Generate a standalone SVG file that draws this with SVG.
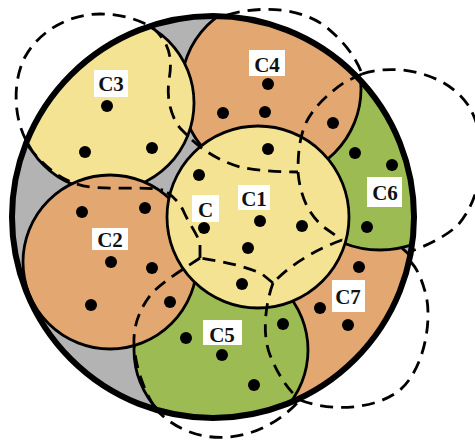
<svg xmlns="http://www.w3.org/2000/svg" width="475" height="442" viewBox="0 0 475 442">
  <style>
    .reg { stroke: #000; stroke-width: 2.8; }
    .yel { fill: #f4e393; }
    .ora { fill: #e3a771; }
    .grn { fill: #9cbc53; }
    .dash { fill: none; stroke: #000; stroke-width: 2.8; stroke-dasharray: 13 8; }
    .dot { fill: #000; }
    .lbox { fill: #fff; }
    .lbl { font-family: "Liberation Serif", "Times New Roman", serif; font-weight: bold; font-size: 21px; fill: #111; text-anchor: middle; }
  </style>
  <defs>
    <clipPath id="outerClip"><circle cx="213" cy="217" r="201"/></clipPath>
  </defs>
  <rect width="475" height="442" fill="#fff"/>

  <g id="outer-disc">
    <circle cx="213" cy="217" r="201" fill="#b3b3b3"/>
  </g>

  <g id="regions" clip-path="url(#outerClip)">
    <g id="region-C7"><circle class="reg ora" cx="340" cy="320" r="95"/></g>
    <g id="region-C6"><circle class="reg grn" cx="380" cy="150" r="100"/></g>
    <g id="region-C4"><circle class="reg ora" cx="271" cy="89" r="90"/></g>
    <g id="region-C3"><circle class="reg yel" cx="106" cy="103" r="88"/></g>
    <g id="region-C5"><circle class="reg grn" cx="221" cy="350" r="87"/></g>
    <g id="region-C2"><circle class="reg ora" cx="110" cy="262" r="87"/></g>
    <g id="region-C1"><circle class="reg yel" cx="258" cy="217" r="91"/></g>
  </g>

  <g id="outer-ring">
    <circle cx="213" cy="217" r="201" fill="none" stroke="#000" stroke-width="6"/>
  </g>

  <g id="dashed-boundaries">
    <path class="dash" d="M26,140 C14,118 12,82 25,57 C40,30 70,14 100,14 C122,14 140,20 153,28"/>
    <path class="dash" d="M153,28 C172,45 172,62 169,80 C166,100 172,118 180,128 L192,140"/>
    <path class="dash" d="M227,15 C262,5 300,8 325,26 C342,40 355,55 362,74"/>
    <path class="dash" d="M362,74 L345,82 C330,92 312,108 305,125 C299,140 298,155 298,172"/>
    <path class="dash" d="M192,140 C205,152 222,162 240,167 C258,171 280,172 298,172"/>
    <path class="dash" d="M298,172 C300,195 308,215 325,228 L342,240"/>
    <path class="dash" d="M362,74 C400,62 448,75 468,105 C490,140 484,195 458,225 C444,238 425,246 412,251"/>
    <path class="dash" d="M342,240 C320,248 293,262 273,283"/>
    <path class="dash" d="M273,283 L262,274 C245,266 225,262 200,258"/>
    <path class="dash" d="M200,258 L200,243 C196,232 188,222 183,210 C178,200 170,194 163,190"/>
    <path class="dash" d="M28,146 C45,168 65,184 90,187 C115,190 140,186 163,190"/>
    <path class="dash" d="M200,258 C185,268 165,280 152,293 C140,308 133,325 134,345 C136,370 145,392 155,408"/>
    <path class="dash" d="M155,408 C172,428 200,440 230,437 C258,434 282,420 300,400"/>
    <path class="dash" d="M273,283 C265,305 262,335 270,355 C278,375 288,390 300,400"/>
    <path class="dash" d="M300,400 C330,412 375,410 400,390 C425,368 432,320 426,295 C422,280 418,270 411,262"/>
  </g>

  <g id="points">
    <circle class="dot" cx="107" cy="106" r="6"/>
    <circle class="dot" cx="85" cy="152" r="6"/>
    <circle class="dot" cx="152" cy="148" r="6"/>
    <circle class="dot" cx="268" cy="84" r="6"/>
    <circle class="dot" cx="223" cy="113" r="6"/>
    <circle class="dot" cx="265" cy="112" r="6"/>
    <circle class="dot" cx="333" cy="123" r="6"/>
    <circle class="dot" cx="355" cy="153" r="6"/>
    <circle class="dot" cx="392" cy="165" r="6"/>
    <circle class="dot" cx="367" cy="227" r="6"/>
    <circle class="dot" cx="268" cy="149" r="6"/>
    <circle class="dot" cx="199" cy="175" r="6"/>
    <circle class="dot" cx="204" cy="228" r="6"/>
    <circle class="dot" cx="260" cy="221" r="6"/>
    <circle class="dot" cx="302" cy="226" r="6"/>
    <circle class="dot" cx="248" cy="248" r="6"/>
    <circle class="dot" cx="242" cy="284" r="6"/>
    <circle class="dot" cx="82" cy="212" r="6"/>
    <circle class="dot" cx="145" cy="208" r="6"/>
    <circle class="dot" cx="111" cy="262" r="6"/>
    <circle class="dot" cx="152" cy="268" r="6"/>
    <circle class="dot" cx="91" cy="305" r="6"/>
    <circle class="dot" cx="170" cy="302" r="6"/>
    <circle class="dot" cx="186" cy="338" r="6"/>
    <circle class="dot" cx="222" cy="355" r="6"/>
    <circle class="dot" cx="254" cy="385" r="6"/>
    <circle class="dot" cx="283" cy="324" r="6"/>
    <circle class="dot" cx="359" cy="267" r="6"/>
    <circle class="dot" cx="320" cy="308" r="6"/>
    <circle class="dot" cx="348" cy="325" r="6"/>
  </g>

  <g id="label-C3"><rect class="lbox" x="94" y="70" width="34" height="27"/><text class="lbl" x="111" y="91">C3</text></g>
  <g id="label-C4"><rect class="lbox" x="249" y="50" width="36" height="26"/><text class="lbl" x="267" y="72">C4</text></g>
  <g id="label-C1"><rect class="lbox" x="238" y="185" width="32" height="25"/><text class="lbl" x="254" y="206">C1</text></g>
  <g id="label-C"><rect class="lbox" x="192" y="195" width="27" height="27"/><text class="lbl" x="205.5" y="217">C</text></g>
  <g id="label-C6"><rect class="lbox" x="367" y="177" width="35" height="30"/><text class="lbl" x="385" y="200">C6</text></g>
  <g id="label-C2"><rect class="lbox" x="92" y="228" width="36" height="22"/><text class="lbl" x="110" y="247">C2</text></g>
  <g id="label-C5"><rect class="lbox" x="203" y="320" width="39" height="25"/><text class="lbl" x="222" y="342">C5</text></g>
  <g id="label-C7"><rect class="lbox" x="332" y="280" width="33" height="32"/><text class="lbl" x="348" y="304">C7</text></g>
</svg>
